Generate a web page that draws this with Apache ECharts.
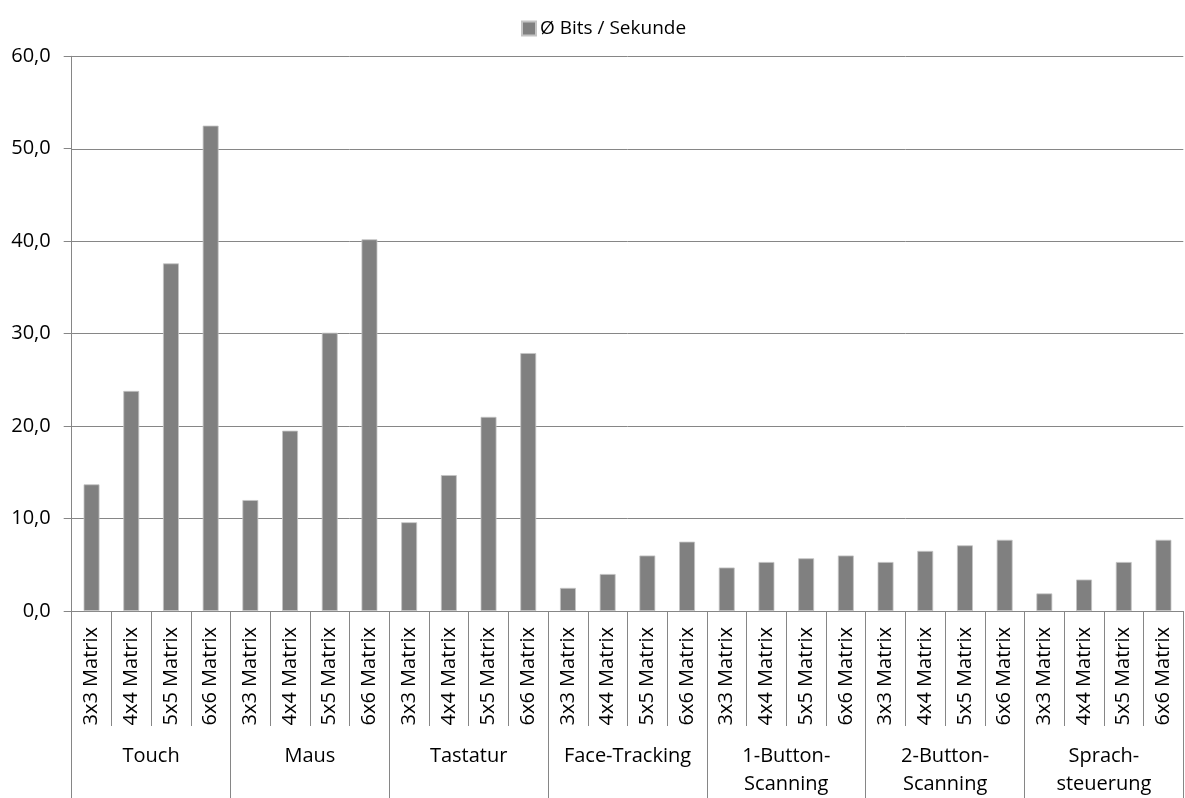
<!DOCTYPE html>
<html>
<head>
<meta charset="utf-8">
<script src="https://cdn.jsdelivr.net/npm/echarts@6/dist/echarts.min.js"></script>
<style>
  html, body { margin: 0; padding: 0; background: #ffffff; }
  #chart { width: 1185px; height: 798px; }
</style>
</head>
<body>
<div id="chart"></div>
<script>
// Input methods (outer category level)
const groups = ['Touch', 'Maus', 'Tastatur', 'Face-Tracking', '1-Button-\nScanning', '2-Button-\nScanning', 'Sprach-\nsteuerung'];
// Matrix sizes (inner category level)
const matrices = ['3x3 Matrix', '4x4 Matrix', '5x5 Matrix', '6x6 Matrix'];

// Average bits per second, one array per input method (3x3 .. 6x6)
const touch        = [13.7, 23.8, 37.6, 52.5];
const maus         = [12.0, 19.5, 30.1, 40.2];
const tastatur     = [9.6, 14.7, 21.0, 27.9];
const faceTracking = [2.5, 4.0, 6.0, 7.5];
const oneButton    = [4.7, 5.3, 5.7, 6.0];
const twoButton    = [5.3, 6.5, 7.1, 7.7];
const sprache      = [1.9, 3.4, 5.3, 7.7];

const seriesName = 'Ø Bits / Sekunde';
const yTicks = { min: 0, max: 60, interval: 10 };

const perGroup = [touch, maus, tastatur, faceTracking, oneButton, twoButton, sprache];
const innerCats = [];
const values = [];
perGroup.forEach(function (arr) {
  arr.forEach(function (v, i) {
    innerCats.push(matrices[i]);
    values.push(v);
  });
});

const FONT = '"Open Sans"';
const FONT_SIZE = 20;
const AXIS_GRAY = '#868686';

const chart = echarts.init(document.getElementById('chart'), null, { renderer: 'canvas' });
chart.setOption({
  animation: false,
  backgroundColor: '#ffffff',
  textStyle: { fontFamily: FONT, color: '#000' },
  legend: {
    show: true,
    left: 516,
    top: 14,
    itemWidth: 14,
    itemHeight: 14,
    itemGap: 10,
    icon: 'rect',
    textStyle: { fontFamily: FONT, fontSize: 19, color: '#000', padding: [0, 0, 0, -1] },
    data: [seriesName]
  },
  grid: {
    left: 71.7,
    right: 1.7,
    top: 56.3,
    bottom: 183.7,
    containLabel: false
  },
  xAxis: [
    {
      type: 'category',
      data: innerCats,
      position: 'bottom',
      boundaryGap: true,
      axisLine: { show: true, lineStyle: { color: AXIS_GRAY, width: 1 } },
      axisTick: { show: true, interval: 0, length: 115, alignWithLabel: false, lineStyle: { color: AXIS_GRAY } },
      axisLabel: {
        interval: 0,
        rotate: 90,
        margin: 16,
        hideOverlap: false,
        fontFamily: FONT,
        fontSize: FONT_SIZE,
        color: '#000'
      },
      splitLine: { show: false }
    },
    {
      type: 'category',
      data: groups,
      position: 'bottom',
      boundaryGap: true,
      axisLine: { show: false },
      axisTick: { show: true, interval: 0, length: 190, alignWithLabel: false, lineStyle: { color: AXIS_GRAY } },
      axisLabel: {
        interval: 0,
        margin: 131,
        fontFamily: FONT,
        fontSize: FONT_SIZE,
        lineHeight: 28,
        color: '#000',
        align: 'center',
        verticalAlign: 'top'
      },
      splitLine: { show: false }
    }
  ],
  yAxis: {
    type: 'value',
    min: yTicks.min,
    max: yTicks.max,
    interval: yTicks.interval,
    axisLine: { show: true, lineStyle: { color: AXIS_GRAY, width: 1 } },
    axisTick: { show: true, length: 8, inside: false, lineStyle: { color: AXIS_GRAY } },
    axisLabel: {
      margin: 21,
      fontFamily: FONT,
      fontSize: FONT_SIZE,
      color: '#000',
      formatter: function (v) { return v.toFixed(1).replace('.', ','); }
    },
    splitLine: { show: true, lineStyle: { color: AXIS_GRAY, width: 1 } }
  },
  series: [
    {
      name: seriesName,
      type: 'bar',
      xAxisIndex: 0,
      yAxisIndex: 0,
      data: values,
      barWidth: '40%',
      itemStyle: {
        color: '#808080',
        borderColor: '#c4c4c4',
        borderWidth: 0.8
      },
      emphasis: { disabled: true }
    }
  ]
});
</script>
</body>
</html>
